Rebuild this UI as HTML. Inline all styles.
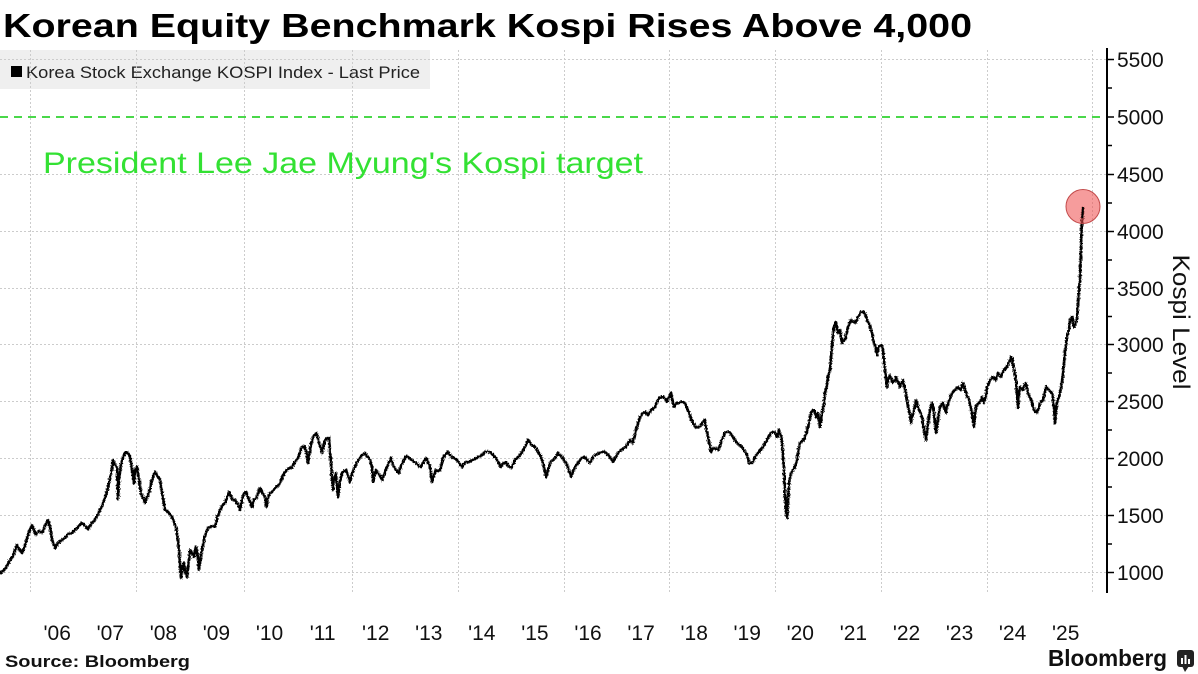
<!DOCTYPE html>
<html>
<head>
<meta charset="utf-8">
<style>
  html,body{margin:0;padding:0;background:#fff;}
  svg{display:block;}
  text{font-family:"Liberation Sans","DejaVu Sans",sans-serif;}
</style>
</head>
<body>
<svg width="1198" height="674" viewBox="0 0 1198 674" xmlns="http://www.w3.org/2000/svg">
  <defs>
    <filter id="rough" x="-2%" y="-5%" width="104%" height="110%">
      <feTurbulence type="fractalNoise" baseFrequency="0.9 0.6" numOctaves="2" seed="3" result="n"/>
      <feDisplacementMap in="SourceGraphic" in2="n" scale="3.5" xChannelSelector="R" yChannelSelector="G"/>
    </filter>
  </defs>
  <rect x="0" y="0" width="1198" height="674" fill="#ffffff"/>

  <!-- Title -->
  <text x="3" y="37" font-size="33" font-weight="bold" fill="#000" textLength="969" lengthAdjust="spacingAndGlyphs">Korean Equity Benchmark Kospi Rises Above 4,000</text>

  <!-- Legend box -->
  <rect x="0" y="50" width="430" height="39" fill="#efefef"/>
  <rect x="11" y="66" width="11" height="11" fill="#000"/>
  <text x="26" y="78" font-size="17" fill="#222" textLength="394" lengthAdjust="spacingAndGlyphs">Korea Stock Exchange KOSPI Index - Last Price</text>

  <!-- Horizontal gridlines -->
  <g stroke="#cccccc" stroke-width="1" stroke-dasharray="2 2" fill="none">
    <line x1="0" y1="59.5" x2="1107" y2="59.5"/>
    <line x1="0" y1="174.5" x2="1107" y2="174.5"/>
    <line x1="0" y1="231.5" x2="1107" y2="231.5"/>
    <line x1="0" y1="288.5" x2="1107" y2="288.5"/>
    <line x1="0" y1="344.5" x2="1107" y2="344.5"/>
    <line x1="0" y1="401.5" x2="1107" y2="401.5"/>
    <line x1="0" y1="458.5" x2="1107" y2="458.5"/>
    <line x1="0" y1="515.5" x2="1107" y2="515.5"/>
    <line x1="0" y1="572.5" x2="1107" y2="572.5"/>
  </g>
  <!-- Vertical gridlines -->
  <g stroke="#cccccc" stroke-width="1" stroke-dasharray="2 2" fill="none">
    <line x1="30.5" y1="50" x2="30.5" y2="592"/>
    <line x1="136.5" y1="50" x2="136.5" y2="592"/>
    <line x1="244.5" y1="50" x2="244.5" y2="592"/>
    <line x1="352.5" y1="50" x2="352.5" y2="592"/>
    <line x1="458.5" y1="50" x2="458.5" y2="592"/>
    <line x1="564.5" y1="50" x2="564.5" y2="592"/>
    <line x1="669.5" y1="50" x2="669.5" y2="592"/>
    <line x1="775.5" y1="50" x2="775.5" y2="592"/>
    <line x1="881.5" y1="50" x2="881.5" y2="592"/>
    <line x1="987.5" y1="50" x2="987.5" y2="592"/>
    <line x1="1092.5" y1="50" x2="1092.5" y2="592"/>
  </g>

  <!-- Target line -->
  <line x1="0" y1="117" x2="1107" y2="117" stroke="#4ad84a" stroke-width="2" stroke-dasharray="8 6"/>
  <text x="43" y="173" font-size="30" fill="#33e133" textLength="600" lengthAdjust="spacingAndGlyphs">President Lee Jae Myung's Kospi target</text>

  <!-- Series -->
  <polyline filter="url(#rough)" fill="none" stroke="#000" stroke-width="2.7" stroke-linejoin="round" stroke-linecap="round" points="
0,573 4,570 7,566 10,560 13,556 15,550 17,545 19,549 22,553 25,545 28,535 30,530 32,525 34,530 36,535 39,531 42,533 45,526 48,520 50,527 52,540 55,548 58,543 62,540 65,538 68,534 72,533 75,530 78,527 82,523 85,526 88,529 91,524 95,520 98,514 100,510 103,503 106,495 108,487 110,478 112,468 113,460 115,465 117,467 118,499 119,480 121,465 122,460 124,455 126,452 128,453 130,457 132,470 134,483 135,470 137,467 139,480 141,493 143,498 145,503 147,497 149,493 152,480 155,472 157,475 160,480 162,492 165,510 168,512 172,517 174,522 176,527 178,540 179,550 180,565 181,578 182,568 184,563 185,572 187,577 188,568 190,550 192,553 194,557 195,550 196,547 198,558 199,570 200,562 202,550 204,540 206,533 208,528 210,527 213,526 215,527 217,518 220,510 222,506 225,503 227,497 229,492 231,496 233,500 235,500 237,503 239,507 240,510 242,500 244,493 246,492 248,497 250,502 252,507 254,500 257,497 259,490 260,488 262,492 265,497 266,507 268,498 270,493 272,492 275,488 277,487 280,483 282,478 285,472 288,469 292,467 295,462 298,458 300,452 302,447 304,446 306,450 307,457 308,463 310,450 312,440 314,436 316,433 318,438 319,443 321,448 322,453 324,444 325,440 327,438 329,438 330,450 331,463 332,478 333,490 334,480 336,473 337,485 338,497 340,482 342,473 344,471 346,470 348,476 350,482 352,474 355,467 357,462 360,458 362,455 365,453 368,457 370,460 372,467 373,482 374,478 376,470 378,473
380,476 382,480 385,472 387,467 389,462 391,458 393,465 396,470 399,473 401,466 404,460 406,456 409,458 412,460 414,462 416,463 419,466 421,467 424,461 426,458 428,462 430,467 431,475 432,482 434,475 436,470 438,471 440,470 442,463 443,458 445,455 448,452 450,455 452,457 455,459 457,460 460,464 462,467 464,464 466,462 469,462 472,460 475,459 478,457 482,455 485,452 488,451 490,452 493,455 496,458 498,462 501,467 503,464 506,462 508,466 511,468 513,464 515,460 518,457 520,455 522,452 525,447 527,442 528,440 530,443 532,445 534,446 536,448 538,452 540,455 542,460 544,467 545,472 546,477 548,470 550,463 552,461 555,458 557,455 558,453 560,455 562,457 564,460 566,463 568,467 569,470 570,474 571,477 573,472 575,467 578,463 580,460 582,458 585,457 587,460 590,463 592,459 595,455 598,454 600,453 603,452 605,452 608,455 610,457 612,460 613,462 615,458 617,455 619,452 621,450 624,448 626,447 628,443 630,440 631,441 633,443 634,438 636,430 638,424 640,417 642,414 645,412 647,414 648,415 650,412 651,410 653,409 655,407 657,402 659,398 662,397 664,397 666,400 667,402 669,397 671,393 672,398 674,407 675,405 677,403 679,403 681,402 683,402 685,403 687,408 689,413 691,418 693,423 695,426 697,428 699,427 701,425 703,422 705,420 706,428 708,437 710,447 711,452 712,450 714,448 716,449 718,450 720,446 721,442 723,437 725,433 727,432 729,432 731,434 733,437 735,440 737,443 740,445 742,447 744,450 746,453 748,458 749,463 751,463 752,463 754,460 755,457 757,454 759,452 761,449 763,447 765,443 767,440 769,436 771,433 773,432 774,432 776,435 777,437 778,433 779,430 781,436 782,442 783,455 784,470 785,495 786,510 787,518 788,500 789,483 790,478 791,473 793,470 795,467 797,460 798,453 799,448 800,443 802,441 804,440 806,434 808,427 810,418 811,413 813,410 814,410 816,417 817,415 818,413 819,420 820,427 821,420 822,413 824,403 825,393 827,385 828,377 829,373 830,370 831,358 832,347 833,335 834,327 835,324 836,322 837,328 838,333 839,331 840,330 841,336 842,343 843,341 845,340 846,335 848,327 850,322 851,320 853,322 855,323 857,319 858,317 860,314 861,312 863,312 865,313 866,317 867,320 869,323 870,327 871,330 872,333 873,338 874,343 875,345 876,350 877,355 878,348 879,347 880,346 882,345 883,350 884,360 885,370 886,378 887,387 888,380 890,375 891,378 893,383 895,380 896,377 898,382 900,387 901,384 903,380 904,385 906,393 907,400 908,407 910,415 911,423 912,418 914,410 915,405 916,400 917,403 919,410 921,414 922,417 923,423 924,430 925,435 926,440 927,432 928,423 929,416 930,410 931,406 932,403 933,407 934,413 935,423 936,433 937,427 938,420 939,413 940,407 942,404 943,403 944,406 946,413 947,408 948,403 950,399 951,395 953,392 955,390 957,388 958,387 960,389 961,390 962,386 963,383 964,386 966,393 967,396 969,400 970,405 972,413 973,420 974,427 975,416 976,407 977,405 979,403 981,400 982,397 983,400 984,403 986,395 987,387 989,383 990,380 992,378 993,377 995,379 996,380 997,376 998,373 1000,375 1001,377 1002,374 1004,370 1006,368 1007,367 1009,362 1010,360 1011,357 1012,358 1013,364 1014,370 1015,375 1016,380 1017,395 1018,408 1019,395 1020,387 1022,389 1023,390 1024,386 1026,383 1027,388 1028,393 1030,397 1031,400 1033,406 1034,410 1036,412 1037,413 1039,407 1040,403 1042,401 1043,400 1045,392 1046,387 1048,389 1049,390 1051,392 1052,393 1053,400 1054,407 1055,423 1056,410 1057,403 1059,397 1060,393 1062,382 1063,373 1064,363 1065,353 1066,344 1067,337 1068,333 1069,330 1070,320 1071,318 1072,317 1073,322 1074,327 1075,325 1076,323 1077,318 1078,305 1079,290 1080,278 1081,250 1081.5,231 1082,220 1083,208"/>

  <!-- Highlight circle -->
  <circle cx="1083" cy="206.5" r="17" fill="#ee4b4b" fill-opacity="0.55" stroke="#c24a4a" stroke-width="1"/>
  <line x1="1082.3" y1="218" x2="1083" y2="207" stroke="#000" stroke-width="2"/>

  <!-- Y axis -->
  <line x1="1107" y1="48" x2="1107" y2="593" stroke="#000" stroke-width="2"/>
  <g stroke="#000" stroke-width="1.5">
    <line x1="1107" y1="59.5" x2="1114" y2="59.5"/>
    <line x1="1107" y1="117" x2="1114" y2="117"/>
    <line x1="1107" y1="174.5" x2="1114" y2="174.5"/>
    <line x1="1107" y1="231.5" x2="1114" y2="231.5"/>
    <line x1="1107" y1="288.5" x2="1114" y2="288.5"/>
    <line x1="1107" y1="344.5" x2="1114" y2="344.5"/>
    <line x1="1107" y1="401.5" x2="1114" y2="401.5"/>
    <line x1="1107" y1="458.5" x2="1114" y2="458.5"/>
    <line x1="1107" y1="515.5" x2="1114" y2="515.5"/>
    <line x1="1107" y1="572.5" x2="1114" y2="572.5"/>
    <line x1="1107" y1="88" x2="1112" y2="88"/>
    <line x1="1107" y1="145.5" x2="1112" y2="145.5"/>
    <line x1="1107" y1="203" x2="1112" y2="203"/>
    <line x1="1107" y1="260" x2="1112" y2="260"/>
    <line x1="1107" y1="316.5" x2="1112" y2="316.5"/>
    <line x1="1107" y1="373" x2="1112" y2="373"/>
    <line x1="1107" y1="430" x2="1112" y2="430"/>
    <line x1="1107" y1="487" x2="1112" y2="487"/>
    <line x1="1107" y1="544" x2="1112" y2="544"/>
  </g>
  <g font-size="21" fill="#111">
    <text x="1117" y="67">5500</text>
    <text x="1117" y="124.5">5000</text>
    <text x="1117" y="182">4500</text>
    <text x="1117" y="239">4000</text>
    <text x="1117" y="296">3500</text>
    <text x="1117" y="352">3000</text>
    <text x="1117" y="409">2500</text>
    <text x="1117" y="466">2000</text>
    <text x="1117" y="523">1500</text>
    <text x="1117" y="580">1000</text>
  </g>
  <text transform="translate(1173,322) rotate(90)" text-anchor="middle" font-size="24" fill="#111" textLength="135" lengthAdjust="spacingAndGlyphs">Kospi Level</text>

  <!-- X labels -->
  <g font-size="21" fill="#111" text-anchor="middle">
    <text x="57.2" y="640">'06</text>
    <text x="110.3" y="640">'07</text>
    <text x="163.4" y="640">'08</text>
    <text x="216.4" y="640">'09</text>
    <text x="269.5" y="640">'10</text>
    <text x="322.6" y="640">'11</text>
    <text x="375.7" y="640">'12</text>
    <text x="428.8" y="640">'13</text>
    <text x="481.8" y="640">'14</text>
    <text x="534.9" y="640">'15</text>
    <text x="588.0" y="640">'16</text>
    <text x="641.1" y="640">'17</text>
    <text x="694.2" y="640">'18</text>
    <text x="747.2" y="640">'19</text>
    <text x="800.3" y="640">'20</text>
    <text x="853.4" y="640">'21</text>
    <text x="906.5" y="640">'22</text>
    <text x="959.6" y="640">'23</text>
    <text x="1012.6" y="640">'24</text>
    <text x="1065.7" y="640">'25</text>
  </g>

  <!-- Footer -->
  <text x="5" y="667" font-size="17" font-weight="bold" fill="#111" textLength="185" lengthAdjust="spacingAndGlyphs">Source: Bloomberg</text>
  <text x="1048" y="666" font-size="23" font-weight="bold" fill="#111" textLength="119" lengthAdjust="spacingAndGlyphs">Bloomberg</text>
  <g>
    <rect x="1177" y="650" width="17" height="17" rx="3" fill="#222"/>
    <polygon points="1182,666 1189,666 1185,672" fill="#222"/>
    <rect x="1181" y="658" width="2" height="6" fill="#fff"/>
    <rect x="1184.5" y="655" width="2" height="9" fill="#fff"/>
    <rect x="1188" y="659" width="2" height="5" fill="#fff"/>
  </g>
</svg>
</body>
</html>
